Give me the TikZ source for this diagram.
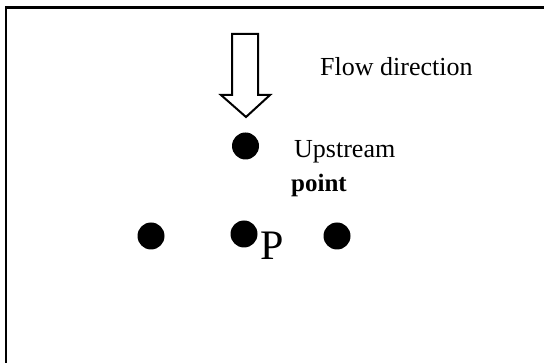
\documentclass[tikz,border=0pt]{standalone}
\usepackage{fontspec}
\setmainfont{Liberation Serif}
\begin{document}
\begin{tikzpicture}[x=1pt,y=-1pt,
  dot/.style={circle,fill=black,minimum size=27pt,inner sep=0pt},
  lbl/.style={anchor=base west,inner sep=0pt,font=\fontsize{26}{30}\selectfont},
  frame/.style={line width=2.5pt},
  flowarrow/.style={line width=2pt,line join=miter,fill=white}]
\useasboundingbox (0,0) rectangle (544,363);
\fill[white] (0,0) rectangle (544,363);
% frame (open on right and bottom)
\draw[frame] (6.2,363) -- (6.2,7.6) -- (544,7.6);
% flow arrow
\draw[flowarrow] (232,34) -- (258,34) -- (258,95) -- (270,95) -- (246,117)
  -- (221,95) -- (232,95) -- cycle;
\node[lbl] (flow) at (320,76) {Flow direction};
% points
\node[dot] (up) at (245.5,146) {};
\node[dot] (left) at (151,236) {};
\node[dot] (P) at (244,234) {};
\node[dot] (right) at (337,236) {};
\node[lbl] (uplbl) at (294,158) {Upstream};
\node[lbl,font=\fontsize{25}{30}\selectfont\bfseries] (uplbl2) at (291,192) {point};
\node[anchor=base west,inner sep=0pt,font=\fontsize{42}{48}\selectfont] (Plbl) at (260.5,260) {P};
\end{tikzpicture}
\end{document}
